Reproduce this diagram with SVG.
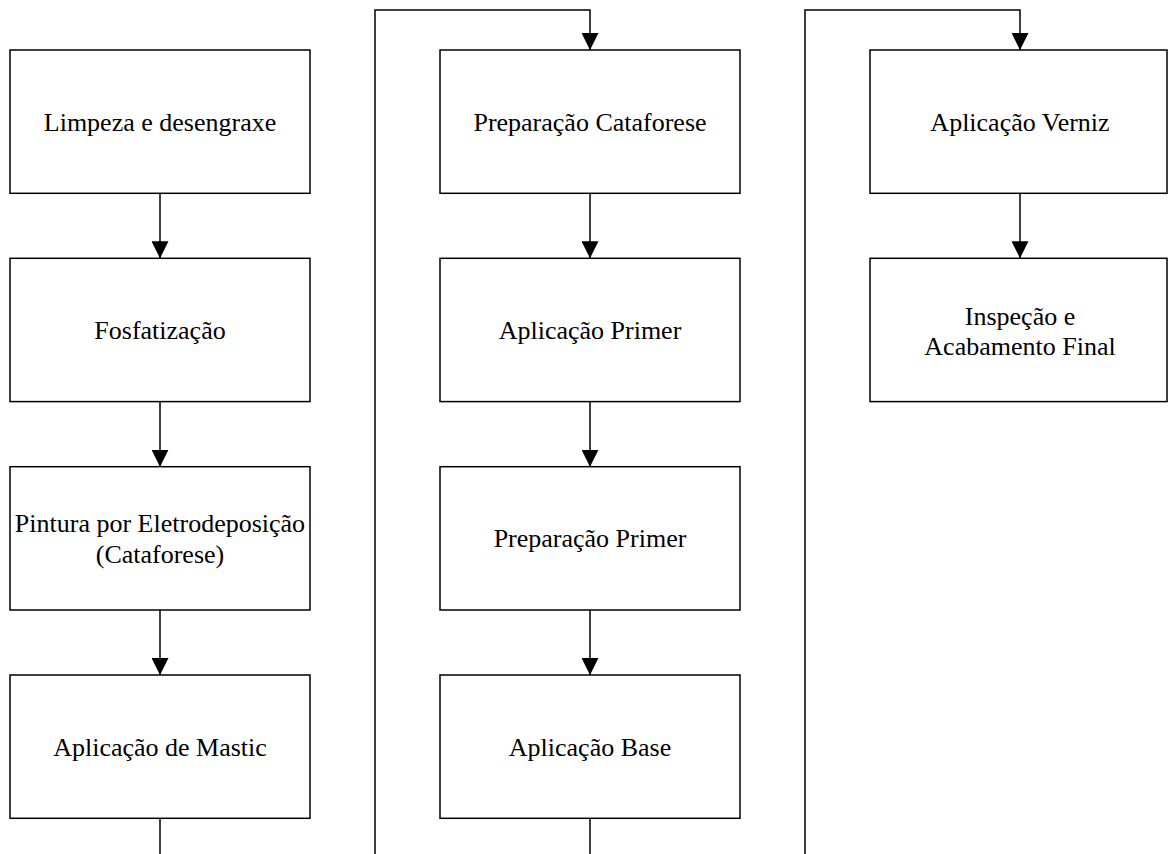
<svg xmlns="http://www.w3.org/2000/svg" width="1168" height="854" viewBox="0 0 1168 854">
  <defs>
    <marker id="arrow" viewBox="0 0 17 17" refX="17" refY="8.5" markerWidth="17" markerHeight="17" markerUnits="userSpaceOnUse" orient="auto">
      <path d="M0,0 L17,8.5 L0,17 z" fill="#000"/>
    </marker>
    <style>
      .box { fill: #fff; stroke: #000; stroke-width: 1.5; }
      .lbl { font-family: "Liberation Serif", Tinos, "DejaVu Serif", serif; font-size: 26px; fill: #000; text-anchor: middle; }
      .wire { fill: none; stroke: #000; stroke-width: 1.5; }
      .arr { marker-end: url(#arrow); }
    </style>
  </defs>
  <rect width="1168" height="854" fill="#fff"/>

  <!-- connectors -->
  <g id="connectors">
    <!-- column 1 -->
    <path class="wire arr" d="M160,193 V258.3"/>
    <path class="wire arr" d="M160,401.7 V466.7"/>
    <path class="wire arr" d="M160,610 V675"/>
    <path class="wire" d="M160,818.3 V854"/>
    <!-- column 1 to column 2 -->
    <path class="wire arr" d="M375,854 V10 H590 V50"/>
    <!-- column 2 -->
    <path class="wire arr" d="M590,193 V258.3"/>
    <path class="wire arr" d="M590,401.7 V466.7"/>
    <path class="wire arr" d="M590,610 V675"/>
    <path class="wire" d="M590,818.3 V854"/>
    <!-- column 2 to column 3 -->
    <path class="wire arr" d="M805,854 V10 H1020 V50"/>
    <!-- column 3 -->
    <path class="wire arr" d="M1020,193 V258.3"/>
  </g>

  <!-- column 1 -->
  <g id="limpeza">
    <rect class="box" x="10" y="50" width="300" height="143.3"/>
    <text class="lbl" x="160" y="130.7">Limpeza e desengraxe</text>
  </g>
  <g id="fosfatizacao">
    <rect class="box" x="10" y="258.3" width="300" height="143.3"/>
    <text class="lbl" x="160" y="339">Fosfatização</text>
  </g>
  <g id="eletrodeposicao">
    <rect class="box" x="10" y="466.7" width="300" height="143.3"/>
    <text class="lbl" x="160" y="531.7">Pintura por Eletrodeposição</text>
    <text class="lbl" x="160" y="563">(Cataforese)</text>
  </g>
  <g id="mastic">
    <rect class="box" x="10" y="675" width="300" height="143.3"/>
    <text class="lbl" x="160" y="755.7">Aplicação de Mastic</text>
  </g>

  <!-- column 2 -->
  <g id="prep-cataforese">
    <rect class="box" x="440" y="50" width="300" height="143.3"/>
    <text class="lbl" x="590" y="130.7">Preparação Cataforese</text>
  </g>
  <g id="aplic-primer">
    <rect class="box" x="440" y="258.3" width="300" height="143.3"/>
    <text class="lbl" x="590" y="339">Aplicação Primer</text>
  </g>
  <g id="prep-primer">
    <rect class="box" x="440" y="466.7" width="300" height="143.3"/>
    <text class="lbl" x="590" y="547.3">Preparação Primer</text>
  </g>
  <g id="aplic-base">
    <rect class="box" x="440" y="675" width="300" height="143.3"/>
    <text class="lbl" x="590" y="755.7">Aplicação Base</text>
  </g>

  <!-- column 3 -->
  <g id="aplic-verniz">
    <rect class="box" x="870" y="50" width="297" height="143.3"/>
    <text class="lbl" x="1020" y="130.7">Aplicação Verniz</text>
  </g>
  <g id="inspecao">
    <rect class="box" x="870" y="258.3" width="297" height="143.3"/>
    <text class="lbl" x="1020" y="324.5">Inspeção e</text>
    <text class="lbl" x="1020" y="355">Acabamento Final</text>
  </g>
</svg>
